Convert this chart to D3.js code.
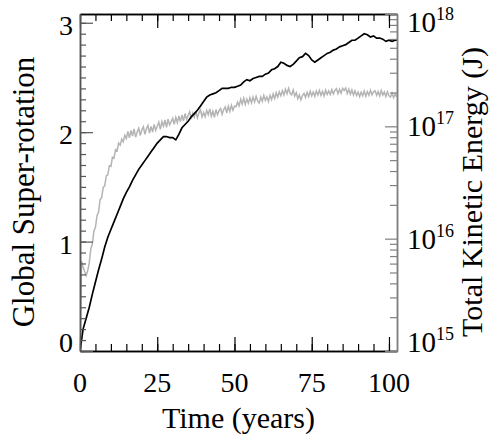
<!DOCTYPE html>
<html>
<head>
<meta charset="utf-8">
<script src="https://cdn.jsdelivr.net/npm/d3@7"></script>
<style>
  body { margin: 0; background: #fff; }
  svg text { font-family: "Liberation Serif", "DejaVu Serif", "Noto Serif", "Nimbus Roman", "FreeSerif", "Tinos", "Times New Roman", Times, "Noto Serif CJK SC", serif; fill: #000; }
</style>
</head>
<body>
<div class="grafico"></div>
<script>
// x axis ticks (years)
const yearTicks = [0, 25, 50, 75, 100];
const rotationTicks = [0, 1, 2, 3];
const energyTicks = [1e15, 1e16, 1e17, 1e18];

// global super-rotation, one value per year from t = 0
const rotationStep = 1;
const rotationValues = [
  0, 0.20, 0.30, 0.40, 0.52, 0.63, 0.74, 0.84, 0.95, 1.04,
  1.11, 1.18, 1.25, 1.32, 1.39, 1.45, 1.50, 1.56, 1.61, 1.66,
  1.70, 1.74, 1.78, 1.82, 1.86, 1.90, 1.93, 1.96, 1.96, 1.95,
  1.95, 1.93, 1.98, 2.04, 2.07, 2.10, 2.14, 2.17, 2.20, 2.24,
  2.28, 2.32, 2.34, 2.35, 2.36, 2.38, 2.40, 2.40, 2.40, 2.41,
  2.41, 2.42, 2.43, 2.46, 2.48, 2.47, 2.49, 2.50, 2.51, 2.51,
  2.53, 2.54, 2.57, 2.58, 2.60, 2.64, 2.63, 2.61, 2.60, 2.62,
  2.65, 2.68, 2.69, 2.72, 2.70, 2.66, 2.64, 2.66, 2.68, 2.70,
  2.72, 2.73, 2.75, 2.76, 2.78, 2.79, 2.80, 2.82, 2.84, 2.84,
  2.86, 2.88, 2.90, 2.89, 2.87, 2.88, 2.86, 2.86, 2.85, 2.83,
  2.84, 2.83, 2.84, 2.84
];

// total kinetic energy in units of 1e17 J, every half year from t = 0
const energyUnit = 1e17;
const energyStep = 0.5;
const energyValues = [
  0.0100, 0.0629, 0.0560, 0.0510, 0.0468, 0.0520, 0.0610, 0.0810, 0.0900, 0.117,
  0.126, 0.160, 0.172, 0.222, 0.232, 0.285, 0.296, 0.362, 0.370, 0.445,
  0.440, 0.530, 0.520, 0.620, 0.605, 0.710, 0.680, 0.770, 0.730, 0.830,
  0.780,
  0.90, 0.79, 0.92, 0.82, 0.95, 0.80, 0.89, 0.96, 0.83, 0.93,
  0.99, 0.85, 0.95, 1.02, 0.87, 1.00, 0.89, 1.04, 0.92, 1.00,
  1.09, 0.94, 1.10, 1.00, 1.14, 0.98, 1.16, 1.03, 1.10, 1.18,
  1.04, 1.20, 1.08, 1.24, 1.10, 1.26, 1.12, 1.30, 1.15, 1.25,
  1.35, 1.16, 1.31, 1.21, 1.37, 1.19, 1.32, 1.40, 1.21, 1.33,
  1.22, 1.39, 1.27, 1.43, 1.23, 1.36, 1.20, 1.41, 1.27, 1.38,
  1.44, 1.28, 1.41, 1.49, 1.32, 1.51, 1.36, 1.54, 1.39, 1.51,
  1.50, 1.64, 1.52, 1.74, 1.58, 1.78, 1.57, 1.75, 1.61, 1.80,
  1.62, 1.82, 1.65, 1.85, 1.68, 1.61, 1.82, 1.67, 1.88, 1.70,
  1.83, 1.66, 1.89, 1.73, 1.94, 1.77, 1.99, 1.82, 2.03, 1.87,
  2.08, 1.90, 2.14, 1.95, 2.18, 1.97, 1.91, 2.11, 1.86, 1.99,
  1.76, 1.90, 1.72, 1.88, 1.97, 1.81, 2.01, 1.84, 2.05, 1.87,
  2.02, 1.85, 2.06, 1.90, 2.09, 1.88, 2.04, 1.86, 2.10, 1.92,
  2.07, 1.92, 2.12, 1.94, 2.09, 2.16, 1.95, 2.13, 1.97, 2.18,
  2.09, 2.19, 1.96, 2.14, 1.93, 2.11, 1.90, 2.07, 1.88, 2.02,
  1.84, 2.02, 1.87, 2.06, 1.85, 2.04, 1.89, 2.09, 1.91, 2.03,
  2.07, 1.89, 2.04, 1.86, 2.08, 1.90, 2.02, 1.84, 2.03, 1.87,
  1.82, 1.97, 1.80, 1.94, 1.83
];

const width = 490, height = 434;
const plotLeft = 80, plotRight = 397, plotTop = 14, plotBottom = 351;

const svg = d3.select(".grafico")
  .append("svg")
  .attr("width", width)
  .attr("height", height);

const x = d3.scaleLinear().domain([0, 102.6]).range([plotLeft, plotRight]);
const yRot = d3.scaleLinear().domain([0, 3.08]).range([plotBottom, plotTop]);
const yKE = d3.scaleLog().domain([1e15, 1e18]).range([plotBottom, plotTop]);

svg.append("clipPath").attr("id", "plot")
  .append("rect")
  .attr("x", plotLeft).attr("y", plotTop)
  .attr("width", plotRight - plotLeft).attr("height", plotBottom - plotTop);

const rotation = rotationValues.map((v, i) => ({ t: i * rotationStep, v: v }));
const energy = energyValues.map((v, i) => ({ t: i * energyStep, v: v * energyUnit }));

const lines = svg.append("g").attr("clip-path", "url(#plot)");

lines.append("path")
  .datum(energy)
  .attr("fill", "none")
  .attr("stroke", "#b4b4b4")
  .attr("stroke-width", 1.5)
  .attr("d", d3.line().x(d => x(d.t)).y(d => yKE(d.v)));

lines.append("path")
  .datum(rotation)
  .attr("fill", "none")
  .attr("stroke", "#000")
  .attr("stroke-width", 1.7)
  .attr("d", d3.line().x(d => x(d.t)).y(d => yRot(d.v)));

// axes, ticks pointing inside
const minorYears = d3.range(0, 101, 5);
const minorRot = d3.range(0, 31).map(i => i / 10);
const minorKE = [];
for (let e = 15; e < 18; e++) {
  for (let k = 2; k <= 9; k++) minorKE.push(k * Math.pow(10, e));
}

function drawAxis(axis, pos, color) {
  const g = svg.append("g")
    .attr("transform", pos)
    .call(axis.tickFormat("").tickSizeOuter(0));
  g.selectAll("line").attr("stroke", color).attr("stroke-width", 1.2);
  g.select(".domain").attr("stroke", color).attr("stroke-width", 1.5);
  return g;
}

drawAxis(d3.axisBottom(x).tickValues(minorYears).tickSize(-7), `translate(0,${plotBottom})`, "#000");
drawAxis(d3.axisBottom(x).tickValues(yearTicks).tickSize(-14), `translate(0,${plotBottom})`, "#000");
drawAxis(d3.axisTop(x).tickValues(minorYears).tickSize(-7), `translate(0,${plotTop})`, "#000");
drawAxis(d3.axisTop(x).tickValues(yearTicks).tickSize(-14), `translate(0,${plotTop})`, "#000");
drawAxis(d3.axisLeft(yRot).tickValues(minorRot).tickSize(-6), `translate(${plotLeft},0)`, "#555");
drawAxis(d3.axisLeft(yRot).tickValues(rotationTicks).tickSize(-13), `translate(${plotLeft},0)`, "#555");
drawAxis(d3.axisRight(yKE).tickValues(minorKE).tickSize(-7), `translate(${plotRight},0)`, "#808080");
drawAxis(d3.axisRight(yKE).tickValues(energyTicks).tickSize(-12), `translate(${plotRight},0)`, "#808080");

// tick labels
svg.selectAll(".xlab")
  .data(yearTicks)
  .join("text")
  .attr("x", d => x(d))
  .attr("y", 392)
  .attr("text-anchor", "middle")
  .attr("font-size", 28)
  .text(d => d);

svg.selectAll(".ylab")
  .data(rotationTicks)
  .join("text")
  .attr("x", 73)
  .attr("y", d => d === 0 ? yRot(d) + 1 : yRot(d) + 12)
  .attr("text-anchor", "end")
  .attr("font-size", 28)
  .text(d => d);

const keLab = svg.selectAll(".kelab")
  .data(energyTicks)
  .join("text")
  .attr("x", 407)
  .attr("y", (d, i) => {
    const y0 = yKE(d);
    if (i === 0) return y0 + 1;
    if (i === energyTicks.length - 1) return y0 + 18;
    return y0 + 10;
  })
  .attr("font-size", 29);
keLab.append("tspan").text("10");
keLab.append("tspan")
  .attr("dy", -12)
  .attr("font-size", 18)
  .text(d => Math.round(Math.log10(d)));

// axis titles
svg.append("text")
  .attr("x", (plotLeft + plotRight) / 2)
  .attr("y", 428)
  .attr("text-anchor", "middle")
  .attr("font-size", 30)
  .text("Time (years)");

svg.append("text")
  .attr("transform", `translate(34,192) rotate(-90)`)
  .attr("text-anchor", "middle")
  .attr("font-size", 31)
  .text("Global Super-rotation");

svg.append("text")
  .attr("transform", `translate(482,192) rotate(-90)`)
  .attr("text-anchor", "middle")
  .attr("font-size", 30)
  .text("Total Kinetic Energy (J)");
</script>
</body>
</html>
